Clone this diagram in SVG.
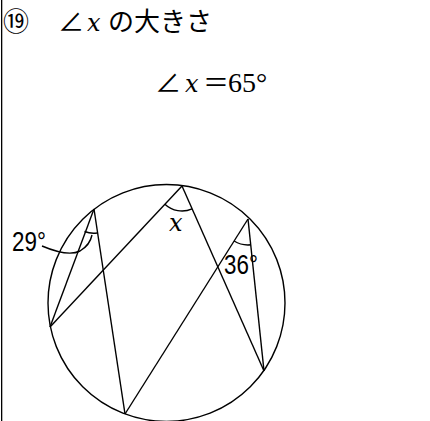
<svg xmlns="http://www.w3.org/2000/svg" width="430" height="421" viewBox="0 0 430 421">
<style>
.ln{fill:none;stroke:#000;stroke-width:1.4}
.jp{font-family:"Noto Sans CJK JP","Noto Sans CJK SC",sans-serif;font-size:26px;fill:#000}
.sf{font-family:"Liberation Serif","DejaVu Serif",serif;fill:#000}
.it{font-family:"DejaVu Serif","Liberation Serif",serif;font-style:italic;fill:#000}
.lb{font-family:"Liberation Sans",Arial,sans-serif;font-size:28px;fill:#000}
</style>
<rect width="430" height="421" fill="#fff"/>
<rect x="1" y="0" width="1.3" height="421" fill="#000"/>
<g id="title">
<text x="3" y="31" class="jp">⑲</text>
<text x="58" y="31" class="jp">∠</text>
<text x="87" y="31" class="it" font-size="24">x</text>
<text x="108" y="31" class="jp">の大きさ</text>
</g>
<g id="answer">
<text x="155" y="92" class="jp">∠</text>
<text x="185" y="92" class="it" font-size="24">x</text>
<text x="203" y="92" class="jp">＝</text>
<text x="228" y="92" class="sf" font-size="28">65°</text>
</g>
<g id="circle">
<circle cx="166.5" cy="303" r="118.5" class="ln" stroke-width="1.6"/>
</g>
<g id="connectors">
<line x1="94" y1="209" x2="50" y2="327" class="ln"/>
<line x1="94" y1="209" x2="125" y2="414" class="ln"/>
<line x1="50" y1="327" x2="182" y2="186" class="ln"/>
<line x1="182" y1="186" x2="264" y2="371" class="ln"/>
<line x1="125" y1="414" x2="248" y2="219" class="ln"/>
<line x1="248" y1="219" x2="264" y2="371" class="ln"/>
</g>
<g id="angle-29">
<path d="M84.5,231.5 A25,25 0 0 0 97,233" class="ln"/>
<path d="M42,246 Q68,257 80,251 Q90,245 92,235" class="ln"/>
<text transform="translate(12,251) scale(0.8,1)" class="lb">29°</text>
</g>
<g id="angle-x">
<path d="M164.9,204.2 A25,25 0 0 0 192.1,208.9" class="ln"/>
<text x="169" y="231" class="it" font-size="24">x</text>
</g>
<g id="angle-36">
<path d="M234.1,241 A26,26 0 0 0 250.7,244.8" class="ln"/>
<text transform="translate(224,274) scale(0.8,1)" class="lb">36°</text>
</g>
</svg>
